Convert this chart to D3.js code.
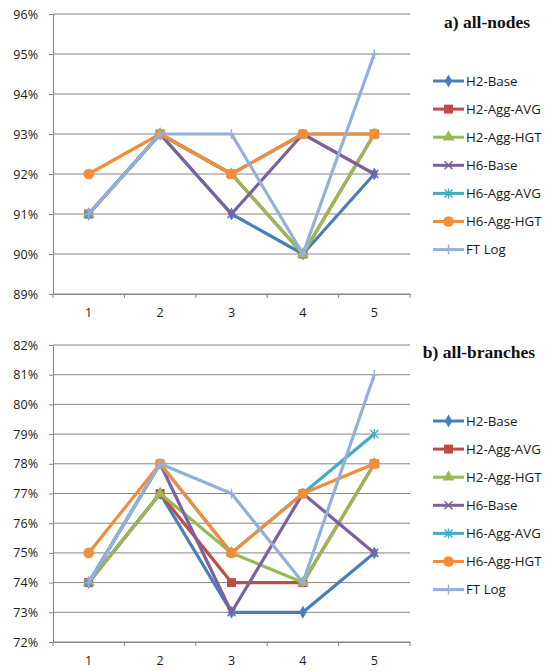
<!DOCTYPE html>
<html>
<head>
<meta charset="utf-8">
<script src="https://cdn.jsdelivr.net/npm/d3@7"></script>
<style>
  html, body { margin: 0; padding: 0; background: #fff; }
  svg { display: block; }
  .tick text { font-family: "Open Sans", "DejaVu Sans", sans-serif; font-size: 12.5px; fill: #1a1a1a; }
  .legend text { font-family: "Open Sans", "DejaVu Sans", sans-serif; font-size: 13.3px; fill: #1a1a1a; }
  .title { font-family: "Liberation Serif", "Times New Roman", serif; font-weight: bold; font-size: 17.5px; fill: #111; }
</style>
</head>
<body>
<svg id="chart" width="547" height="671"></svg>
<script>
// Runs 1..5 on the x axis
const categories = [1, 2, 3, 4, 5];

const seriesNames = ["H2-Base", "H2-Agg-AVG", "H2-Agg-HGT", "H6-Base", "H6-Agg-AVG", "H6-Agg-HGT", "FT Log"];
const seriesColors = ["#4A7EBB", "#BE4B48", "#98B954", "#7D60A0", "#46AAC5", "#F28D3C", "#94B0D8"];
const seriesMarkers = ["diamond", "square", "triangle", "x", "asterisk", "circle", "plus"];

// a) all-nodes accuracy (%)
const nodesH2Base   = [91, 93, 91, 90, 92];
const nodesH2AggAvg = [91, 93, 92, 90, 93];
const nodesH2AggHgt = [91, 93, 92, 90, 93];
const nodesH6Base   = [91, 93, 91, 93, 92];
const nodesH6AggAvg = [91, 93, 92, 93, 93];
const nodesH6AggHgt = [92, 93, 92, 93, 93];
const nodesFTLog    = [91, 93, 93, 90, 95];
const nodesTicks = [89, 90, 91, 92, 93, 94, 95, 96];

// b) all-branches accuracy (%)
const branchesH2Base   = [74, 77, 73, 73, 75];
const branchesH2AggAvg = [74, 77, 74, 74, 78];
const branchesH2AggHgt = [74, 77, 75, 74, 78];
const branchesH6Base   = [74, 78, 73, 77, 75];
const branchesH6AggAvg = [74, 78, 75, 77, 79];
const branchesH6AggHgt = [75, 78, 75, 77, 78];
const branchesFTLog    = [74, 78, 77, 74, 81];
const branchesTicks = [72, 73, 74, 75, 76, 77, 78, 79, 80, 81, 82];

const svg = d3.select("#chart");

function markerPath(type) {
  switch (type) {
    case "diamond":  return d3.symbol(d3.symbolDiamond, 48)();
    case "square":   return d3.symbol(d3.symbolSquare, 80)();
    case "triangle": return d3.symbol(d3.symbolTriangle, 60)();
    case "circle":   return d3.symbol(d3.symbolCircle, 90)();
    default: return null;
  }
}

function drawMarker(g, type, color) {
  if (type === "x") {
    g.append("path").attr("d", "M-4,-4L4,4M-4,4L4,-4")
      .attr("stroke", color).attr("stroke-width", 1.6).attr("fill", "none");
  } else if (type === "asterisk") {
    g.append("path").attr("d", "M-4,-4L4,4M-4,4L4,-4M0,-5L0,5")
      .attr("stroke", color).attr("stroke-width", 1.4).attr("fill", "none");
  } else if (type === "plus") {
    g.append("path").attr("d", "M0,-5L0,5M-4,0L4,0")
      .attr("stroke", color).attr("stroke-width", 1.4).attr("fill", "none");
  } else {
    g.append("path").attr("d", markerPath(type)).attr("fill", color);
  }
}

function drawPanel(opts) {
  const { top, bottom, left, right, ticks, series, title, titleX, titleY, legendY } = opts;

  const x = d3.scaleBand().domain(categories).range([left, right]);
  const y = d3.scaleLinear().domain([d3.min(ticks), d3.max(ticks)]).range([bottom, top]);

  const g = svg.append("g");

  // horizontal gridlines
  g.append("g").selectAll("line").data(ticks).join("line")
    .attr("x1", left).attr("x2", right)
    .attr("y1", d => y(d)).attr("y2", d => y(d))
    .attr("stroke", "#858585").attr("stroke-width", 1);

  // y axis
  const yAxis = g.append("g").attr("transform", `translate(${left},0)`)
    .call(d3.axisLeft(y).tickValues(ticks).tickSize(4).tickPadding(11).tickFormat(d => d + "%"));
  yAxis.select(".domain").attr("stroke", "#858585");
  yAxis.selectAll(".tick line").attr("stroke", "#858585");

  // x axis: ticks at category boundaries
  const xAxis = g.append("g").attr("transform", `translate(0,${bottom})`)
    .call(d3.axisBottom(x).tickSize(0).tickPadding(14));
  xAxis.select(".domain").attr("stroke", "#858585");
  const bounds = categories.map(c => x(c)).concat([right]);
  g.append("g").selectAll("line").data(bounds).join("line")
    .attr("x1", d => d).attr("x2", d => d)
    .attr("y1", bottom).attr("y2", bottom + 4)
    .attr("stroke", "#858585");

  const cx = c => x(c) + x.bandwidth() / 2;
  const line = d3.line().x((d, i) => cx(categories[i])).y(d => y(d));

  series.forEach((vals, si) => {
    const color = seriesColors[si];
    g.append("path").datum(vals)
      .attr("d", line)
      .attr("fill", "none")
      .attr("stroke", color)
      .attr("stroke-width", 3.2)
      .attr("stroke-linejoin", "round");
    vals.forEach((v, i) => {
      const m = g.append("g").attr("transform", `translate(${cx(categories[i])},${y(v)})`);
      drawMarker(m, seriesMarkers[si], color);
    });
  });

  // title
  g.append("text").attr("class", "title")
    .attr("x", titleX).attr("y", titleY).attr("text-anchor", "middle")
    .text(title);

  // legend
  const leg = g.append("g").attr("class", "legend");
  seriesNames.forEach((name, si) => {
    const ly = legendY + si * 28.1;
    const item = leg.append("g").attr("transform", `translate(433,${ly})`);
    item.append("line").attr("x1", 0).attr("x2", 31).attr("y1", 0).attr("y2", 0)
      .attr("stroke", seriesColors[si]).attr("stroke-width", 3);
    const m = item.append("g").attr("transform", "translate(15.5,0)");
    drawMarker(m, seriesMarkers[si], seriesColors[si]);
    item.append("text").attr("x", 33).attr("y", 0).attr("dy", "0.35em").text(name);
  });
}

drawPanel({
  top: 14, bottom: 294, left: 53, right: 410,
  ticks: nodesTicks,
  series: [nodesH2Base, nodesH2AggAvg, nodesH2AggHgt, nodesH6Base, nodesH6AggAvg, nodesH6AggHgt, nodesFTLog],
  title: "a) all-nodes", titleX: 487, titleY: 28, legendY: 81
});

drawPanel({
  top: 345, bottom: 642, left: 53, right: 410,
  ticks: branchesTicks,
  series: [branchesH2Base, branchesH2AggAvg, branchesH2AggHgt, branchesH6Base, branchesH6AggAvg, branchesH6AggHgt, branchesFTLog],
  title: "b) all-branches", titleX: 479, titleY: 358, legendY: 421
});
</script>
</body>
</html>
